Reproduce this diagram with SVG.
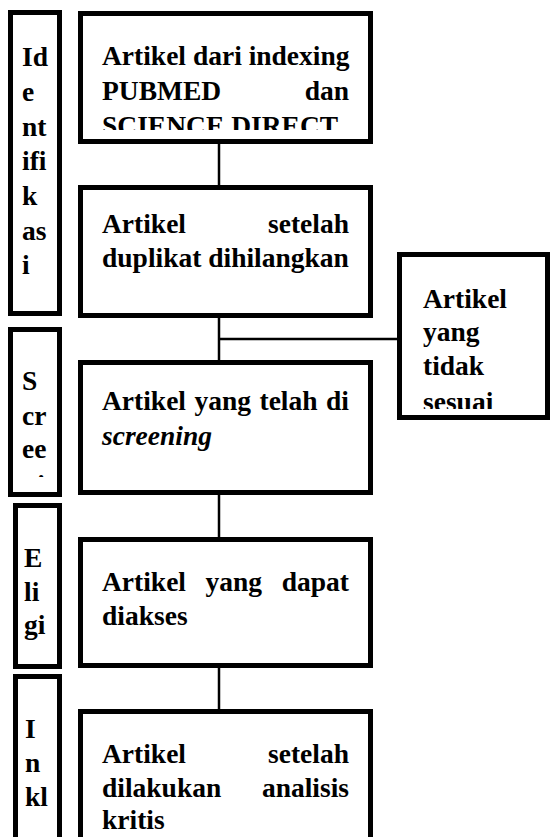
<svg xmlns="http://www.w3.org/2000/svg" width="550" height="837" viewBox="0 0 550 837">
<style>
.box{fill:#fff;stroke:#000;stroke-width:5}
.t{font-family:"Liberation Serif","Times New Roman",serif;font-weight:bold;font-size:27.5px;fill:#000}
.it{font-style:italic}
.c{stroke:#000;stroke-width:2.5;fill:none}
</style>
<defs>
<clipPath id="clip1"><rect x="83" y="16" width="285" height="114"/></clipPath>
<clipPath id="clipS"><rect x="13" y="332" width="44" height="145"/></clipPath>
<clipPath id="clipE"><rect x="18" y="508" width="39" height="139"/></clipPath>
<clipPath id="clipR"><rect x="402" y="257" width="143" height="152"/></clipPath>
</defs>
<rect width="550" height="837" fill="#fff"/>
<g id="connectors">
<line class="c" x1="219" y1="143" x2="219" y2="186"/>
<line class="c" x1="219" y1="317" x2="219" y2="361"/>
<line class="c" x1="219" y1="339" x2="399" y2="339"/>
<line class="c" x1="219" y1="493" x2="219" y2="538"/>
<line class="c" x1="219" y1="666" x2="219" y2="710"/>
</g>
<g id="label-identifikasi">
<rect class="box" x="10.5" y="12.5" width="49" height="301"/>
<text class="t" x="22" y="66">Id</text>
<text class="t" x="22" y="101">e</text>
<text class="t" x="22" y="136">nt</text>
<text class="t" x="22" y="170">ifi</text>
<text class="t" x="22" y="205">k</text>
<text class="t" x="22" y="240">as</text>
<text class="t" x="22" y="274">i</text>
</g>
<g id="label-screening">
<rect class="box" x="10.5" y="329.5" width="49" height="165"/>
<g clip-path="url(#clipS)">
<text class="t" x="22" y="390">S</text>
<text class="t" x="22" y="425">cr</text>
<text class="t" x="22" y="458">ee</text>
<text class="t" x="22" y="494">ni</text>
</g>
</g>
<g id="label-eligi">
<rect class="box" x="15.5" y="505.5" width="44" height="161"/>
<g clip-path="url(#clipE)">
<text class="t" x="24" y="567">E</text>
<text class="t" x="24" y="601">li</text>
<text class="t" x="24" y="634">gi</text>
<text class="t" x="24" y="669">bi</text>
</g>
</g>
<g id="label-inklusi">
<rect class="box" x="15.5" y="676.5" width="44" height="170"/>
<text class="t" x="25" y="738">I</text>
<text class="t" x="25" y="772">n</text>
<text class="t" x="25" y="806">kl</text>
</g>
<g id="box-identifikasi">
<rect class="box" x="80.5" y="13.5" width="290" height="128"/>
<g clip-path="url(#clip1)">
<text class="t" x="102" y="65">Artikel dari indexing</text>
<text class="t" x="102" y="100">PUBMED</text>
<text class="t" x="349" y="100" text-anchor="end">dan</text>
<text class="t" x="102" y="135">SCIENCE DIRECT</text>
</g>
</g>
<g id="box-duplikat">
<rect class="box" x="80.5" y="187.5" width="290" height="128"/>
<text class="t" x="102" y="233">Artikel</text>
<text class="t" x="349" y="233" text-anchor="end">setelah</text>
<text class="t" x="102" y="267">duplikat dihilangkan</text>
</g>
<g id="box-screening">
<rect class="box" x="80.5" y="362.5" width="290" height="130"/>
<text class="t" y="410"><tspan x="102">Artikel</tspan><tspan x="194.5">yang</tspan><tspan x="259.5">telah</tspan></text>
<text class="t" x="349" y="410" text-anchor="end">di</text>
<text class="t it" x="102" y="445">screening</text>
</g>
<g id="box-diakses">
<rect class="box" x="80.5" y="539.5" width="290" height="126"/>
<text class="t" y="591"><tspan x="102">Artikel</tspan><tspan x="205.5">yang</tspan></text>
<text class="t" x="349" y="591" text-anchor="end">dapat</text>
<text class="t" x="102" y="625">diakses</text>
</g>
<g id="box-inklusi">
<rect class="box" x="80.5" y="711.5" width="290" height="140"/>
<text class="t" x="102" y="763">Artikel</text>
<text class="t" x="349" y="763" text-anchor="end">setelah</text>
<text class="t" x="102" y="797">dilakukan</text>
<text class="t" x="349" y="797" text-anchor="end">analisis</text>
<text class="t" x="102" y="829">kritis</text>
</g>
<g id="box-tidak-sesuai">
<rect class="box" x="399.5" y="254.5" width="148" height="163"/>
<g clip-path="url(#clipR)">
<text class="t" x="423" y="308">Artikel</text>
<text class="t" x="423" y="341">yang</text>
<text class="t" x="423" y="375">tidak</text>
<text class="t" x="423" y="411">sesuai</text>
</g>
</g>
</svg>
